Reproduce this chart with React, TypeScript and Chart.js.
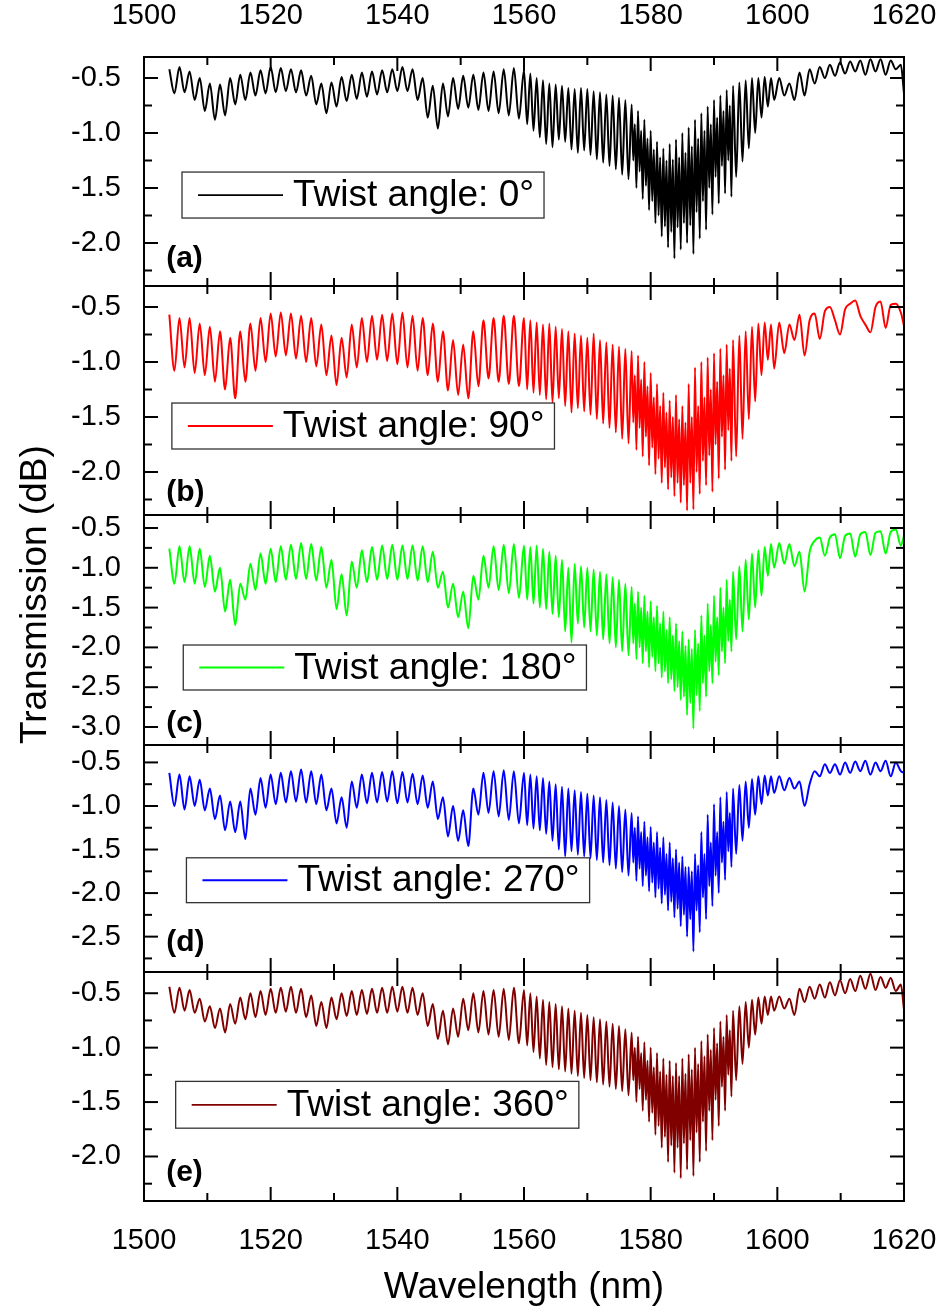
import React, { useEffect, useRef } from "react";
import { Chart, registerables } from "chart.js";

Chart.register(...registerables);

// Shared wavelength sampling (nm): fringe peaks/troughs
const WAVELENGTH_NM = [
  1504.0, 1504.8, 1505.6, 1506.4, 1507.2, 1508.0, 1508.8, 1509.6, 1510.4, 1511.2,
  1512.0, 1512.8, 1513.6, 1514.4, 1515.2, 1516.0, 1516.8, 1517.6, 1518.4, 1519.2,
  1520.0, 1520.8, 1521.6, 1522.4, 1523.2, 1524.0, 1524.8, 1525.6, 1526.4, 1527.2,
  1528.0, 1528.8, 1529.6, 1530.4, 1531.2, 1532.0, 1532.8, 1533.6, 1534.4, 1535.2,
  1536.0, 1536.8, 1537.6, 1538.4, 1539.2, 1540.0, 1540.8, 1541.6, 1542.4, 1543.2,
  1544.0, 1544.8, 1545.6, 1546.4, 1547.2, 1548.0, 1548.8, 1549.6, 1550.4, 1551.2,
  1552.0, 1552.8, 1553.6, 1554.4, 1555.2, 1556.0, 1556.8, 1557.6, 1558.4, 1559.2,
  1560.0, 1560.5, 1561.0, 1561.5, 1562.0, 1562.5, 1563.0, 1563.5, 1564.0, 1564.5,
  1565.0, 1565.5, 1566.0, 1566.5, 1567.0, 1567.5, 1568.0, 1568.5, 1569.0, 1569.5,
  1570.0, 1570.5, 1571.0, 1571.5, 1572.0, 1572.5, 1573.0, 1573.5, 1574.0, 1574.5,
  1575.0, 1575.5, 1576.0, 1576.5,
  1577.0, 1577.25, 1577.5, 1577.75, 1578.0, 1578.25, 1578.5, 1578.75,
  1579.0, 1579.25, 1579.5, 1579.75, 1580.0, 1580.25, 1580.5, 1580.75,
  1581.0, 1581.25, 1581.5, 1581.75, 1582.0, 1582.25, 1582.5, 1582.75,
  1583.0, 1583.25, 1583.5, 1583.75, 1584.0, 1584.25, 1584.5, 1584.75,
  1585.0, 1585.25, 1585.5, 1585.75, 1586.0, 1586.25, 1586.5, 1586.75,
  1587.0, 1587.25, 1587.5, 1587.75, 1588.0, 1588.25, 1588.5, 1588.75,
  1589.0, 1589.25, 1589.5, 1589.75, 1590.0, 1590.25, 1590.5, 1590.75,
  1591.0, 1591.25, 1591.5, 1591.75, 1592.0, 1592.25, 1592.5, 1592.75,
  1593.0, 1593.5, 1594.0, 1594.5,
  1595.0, 1595.5, 1596.0, 1596.5, 1597.0, 1597.5, 1598.0, 1598.5, 1599.0, 1599.5,
  1600.3, 1601.1, 1601.9, 1602.7, 1603.5, 1604.3, 1605.1, 1605.9, 1606.7, 1607.5,
  1608.3, 1609.1, 1609.9, 1610.7, 1611.5, 1612.3, 1613.1, 1613.9, 1614.7, 1615.5,
  1616.3, 1617.1, 1617.9, 1618.7, 1619.5, 1620.0,
];

const TRANSMISSION_0 = [
  -0.42, -0.64, -0.40, -0.63, -0.44, -0.70, -0.50, -0.80, -0.55, -0.88,
  -0.56, -0.84, -0.50, -0.74, -0.47, -0.70, -0.45, -0.66, -0.43, -0.64,
  -0.40, -0.63, -0.41, -0.62, -0.42, -0.63, -0.43, -0.66, -0.48, -0.74,
  -0.55, -0.82, -0.54, -0.76, -0.49, -0.71, -0.47, -0.69, -0.45, -0.67,
  -0.44, -0.65, -0.43, -0.63, -0.42, -0.62, -0.40, -0.62, -0.42, -0.70,
  -0.50, -0.86, -0.57, -0.96, -0.55, -0.85, -0.50, -0.78, -0.48, -0.77,
  -0.47, -0.79, -0.45, -0.80, -0.44, -0.82, -0.42, -0.84, -0.41, -0.87,
  -0.43, -0.92, -0.46, -0.98, -0.50, -1.04, -0.52, -1.10, -0.55, -1.13,
  -0.56, -1.06, -0.57, -1.08, -0.59, -1.15, -0.60, -1.18, -0.59, -1.16,
  -0.60, -1.20, -0.62, -1.24, -0.63, -1.27, -0.65, -1.30, -0.66, -1.33,
  -0.68, -1.38, -0.70, -1.42,
  -0.74, -1.25, -0.92, -1.50, -0.80, -1.35, -0.98, -1.60,
  -0.88, -1.48, -1.05, -1.70, -0.98, -1.62, -1.15, -1.82,
  -1.08, -1.75, -1.22, -1.94, -1.14, -1.85, -1.25, -2.04,
  -1.10, -1.90, -1.24, -2.14, -1.06, -1.86, -1.22, -2.06,
  -1.00, -1.82, -1.18, -2.00, -0.95, -1.84, -1.12, -2.10,
  -0.88, -1.72, -1.05, -1.96, -0.82, -1.62, -0.98, -1.88,
  -0.76, -1.50, -0.92, -1.74, -0.70, -1.40, -0.86, -1.64,
  -0.66, -1.30, -0.80, -1.55, -0.61, -1.25, -0.75, -1.58,
  -0.57, -1.40, -0.54, -1.26,
  -0.52, -1.14, -0.50, -1.00, -0.50, -0.86, -0.49, -0.76, -0.50, -0.70,
  -0.50, -0.66, -0.55, -0.70, -0.45, -0.66, -0.42, -0.55, -0.40, -0.50,
  -0.38, -0.48, -0.36, -0.46, -0.35, -0.44, -0.34, -0.47, -0.33, -0.44,
  -0.33, -0.47, -0.34, -0.42, -0.38, -0.64,
];

const TRANSMISSION_90 = [
  -0.57, -1.08, -0.60, -1.05, -0.60, -1.10, -0.65, -1.12, -0.68, -1.18,
  -0.72, -1.25, -0.78, -1.33, -0.72, -1.18, -0.65, -1.08, -0.60, -1.00,
  -0.56, -0.95, -0.55, -0.94, -0.56, -0.97, -0.58, -1.00, -0.60, -1.04,
  -0.66, -1.12, -0.76, -1.21, -0.78, -1.14, -0.66, -1.05, -0.60, -1.00,
  -0.58, -0.98, -0.57, -0.99, -0.56, -1.02, -0.55, -1.05, -0.58, -1.08,
  -0.60, -1.12, -0.65, -1.18, -0.72, -1.26, -0.80, -1.30, -0.84, -1.33,
  -0.72, -1.22, -0.62, -1.15, -0.60, -1.18, -0.58, -1.20, -0.58, -1.22,
  -0.60, -1.25, -0.62, -1.28, -0.64, -1.30, -0.66, -1.34, -0.65, -1.37,
  -0.68, -1.33, -0.70, -1.40, -0.72, -1.46, -0.74, -1.42, -0.76, -1.45,
  -0.78, -1.48, -0.74, -1.52, -0.80, -1.56, -0.82, -1.60, -0.84, -1.64,
  -0.86, -1.70, -0.88, -1.74,
  -0.90, -1.55, -1.12, -1.80, -0.94, -1.60, -1.16, -1.86,
  -1.00, -1.68, -1.22, -1.94, -1.10, -1.78, -1.32, -2.02,
  -1.20, -1.88, -1.40, -2.10, -1.28, -1.96, -1.46, -2.16,
  -1.35, -2.05, -1.50, -2.22, -1.30, -2.10, -1.52, -2.28,
  -1.40, -2.12, -1.55, -2.35, -1.20, -2.10, -1.50, -2.34,
  -1.05, -2.00, -1.40, -2.20, -1.00, -1.90, -1.32, -2.12,
  -0.96, -1.85, -1.25, -2.18, -0.92, -1.75, -1.18, -2.06,
  -0.88, -1.68, -1.12, -1.98, -0.84, -1.62, -1.06, -1.90,
  -0.80, -1.86, -0.76, -1.70,
  -0.72, -1.52, -0.68, -1.36, -0.65, -1.12, -0.64, -0.98, -0.66, -1.06,
  -0.64, -0.92, -0.66, -0.80, -0.57, -0.94, -0.62, -0.56, -0.79, -0.54,
  -0.50, -0.62, -0.75, -0.52, -0.47, -0.44, -0.58, -0.66, -0.73, -0.50,
  -0.45, -0.69, -0.48, -0.47, -0.55, -0.67,
];

const TRANSMISSION_180 = [
  -0.76, -1.20, -0.73, -1.18, -0.73, -1.20, -0.76, -1.24, -0.85, -1.30,
  -1.00, -1.55, -1.15, -1.72, -1.20, -1.40, -0.95, -1.28, -0.82, -1.20,
  -0.76, -1.18, -0.73, -1.15, -0.71, -1.14, -0.69, -1.14, -0.70, -1.16,
  -0.74, -1.25, -0.90, -1.52, -1.08, -1.60, -0.92, -1.25, -0.78, -1.18,
  -0.74, -1.15, -0.72, -1.14, -0.71, -1.15, -0.72, -1.14, -0.72, -1.16,
  -0.73, -1.18, -0.80, -1.25, -1.05, -1.50, -1.20, -1.62, -1.30, -1.76,
  -1.10, -1.40, -0.85, -1.25, -0.73, -1.28, -0.71, -1.32, -0.70, -1.38,
  -0.72, -1.40, -0.74, -1.45, -0.72, -1.50, -0.76, -1.52, -0.80, -1.58,
  -0.85, -1.62, -0.90, -1.80, -1.00, -1.94, -0.95, -1.70, -0.98, -1.75,
  -1.00, -1.80, -1.02, -1.85, -1.05, -1.90, -1.08, -1.95, -1.12, -2.00,
  -1.15, -2.05, -1.20, -2.10,
  -1.24, -1.95, -1.45, -2.15, -1.30, -2.00, -1.50, -2.20,
  -1.35, -2.05, -1.55, -2.25, -1.42, -2.12, -1.62, -2.30,
  -1.48, -2.20, -1.70, -2.38, -1.55, -2.30, -1.78, -2.45,
  -1.62, -2.40, -1.85, -2.55, -1.70, -2.50, -1.92, -2.66,
  -1.80, -2.62, -1.98, -2.85, -1.90, -2.70, -2.02, -3.02,
  -1.78, -2.60, -1.95, -2.80, -1.60, -2.45, -1.85, -2.62,
  -1.45, -2.30, -1.72, -2.45, -1.35, -2.18, -1.62, -2.35,
  -1.25, -2.05, -1.50, -2.20, -1.15, -1.92, -1.40, -2.05,
  -1.05, -1.90, -0.98, -1.80,
  -0.90, -1.65, -0.82, -1.50, -0.78, -1.35, -0.74, -1.10, -0.70, -1.00,
  -0.69, -0.95, -0.70, -0.98, -0.80, -1.30, -0.80, -0.66, -0.62, -0.85,
  -0.62, -0.58, -0.88, -0.60, -0.57, -0.86, -0.58, -0.55, -0.84, -0.56,
  -0.54, -0.82, -0.55, -0.52, -0.72, -0.60,
];

const TRANSMISSION_270 = [
  -0.62, -1.00, -0.64, -1.04, -0.66, -1.00, -0.70, -1.05, -0.80, -1.15,
  -0.88, -1.28, -0.95, -1.30, -0.95, -1.38, -0.80, -1.10, -0.68, -1.02,
  -0.64, -0.98, -0.62, -0.96, -0.60, -0.95, -0.58, -0.96, -0.60, -0.98,
  -0.64, -1.05, -0.80, -1.20, -0.90, -1.25, -0.72, -1.02, -0.64, -0.97,
  -0.62, -0.96, -0.61, -0.95, -0.60, -0.97, -0.61, -0.96, -0.63, -0.98,
  -0.65, -1.02, -0.72, -1.15, -0.90, -1.35, -1.00, -1.40, -1.05, -1.46,
  -0.80, -1.10, -0.62, -1.08, -0.60, -1.12, -0.59, -1.16, -0.60, -1.20,
  -0.62, -1.22, -0.64, -1.26, -0.66, -1.28, -0.68, -1.32, -0.72, -1.40,
  -0.75, -1.50, -0.78, -1.58, -0.80, -1.52, -0.82, -1.56, -0.84, -1.58,
  -0.86, -1.60, -0.88, -1.62, -0.90, -1.65, -0.93, -1.68, -0.96, -1.72,
  -1.00, -1.76, -1.04, -1.80,
  -1.08, -1.65, -1.25, -1.86, -1.12, -1.72, -1.30, -1.92,
  -1.18, -1.80, -1.36, -1.98, -1.24, -1.88, -1.42, -2.05,
  -1.30, -1.95, -1.48, -2.12, -1.36, -2.02, -1.55, -2.20,
  -1.42, -2.10, -1.60, -2.28, -1.50, -2.18, -1.65, -2.38,
  -1.58, -2.25, -1.70, -2.50, -1.70, -2.30, -1.75, -2.67,
  -1.55, -2.20, -1.68, -2.45, -1.30, -2.05, -1.55, -2.30,
  -1.10, -1.92, -1.42, -2.15, -0.98, -1.80, -1.30, -2.00,
  -0.90, -1.65, -1.18, -1.85, -0.84, -1.52, -1.08, -1.70,
  -0.80, -1.55, -0.76, -1.40,
  -0.72, -1.25, -0.69, -1.10, -0.66, -0.98, -0.65, -0.88, -0.66, -0.85,
  -0.66, -0.82, -0.68, -0.80, -0.72, -1.00, -0.75, -0.60, -0.66, -0.52,
  -0.62, -0.52, -0.64, -0.50, -0.62, -0.49, -0.60, -0.48, -0.64, -0.50,
  -0.60, -0.48, -0.66, -0.50, -0.60, -0.62,
];

const TRANSMISSION_360 = [
  -0.44, -0.68, -0.45, -0.66, -0.47, -0.68, -0.55, -0.76, -0.62, -0.82,
  -0.64, -0.86, -0.60, -0.78, -0.54, -0.74, -0.50, -0.72, -0.48, -0.70,
  -0.46, -0.68, -0.45, -0.67, -0.44, -0.68, -0.46, -0.72, -0.52, -0.80,
  -0.58, -0.82, -0.54, -0.74, -0.50, -0.71, -0.48, -0.70, -0.47, -0.69,
  -0.46, -0.68, -0.45, -0.68, -0.44, -0.67, -0.44, -0.68, -0.45, -0.70,
  -0.50, -0.80, -0.60, -0.92, -0.66, -0.97, -0.64, -0.90, -0.55, -0.84,
  -0.50, -0.86, -0.48, -0.88, -0.47, -0.90, -0.46, -0.93, -0.45, -0.96,
  -0.47, -0.98, -0.50, -1.04, -0.53, -1.10, -0.56, -1.16, -0.58, -1.18,
  -0.60, -1.20, -0.62, -1.22, -0.64, -1.24, -0.66, -1.26, -0.68, -1.28,
  -0.70, -1.30, -0.72, -1.32, -0.74, -1.34, -0.76, -1.36, -0.78, -1.38,
  -0.80, -1.40, -0.83, -1.44,
  -0.86, -1.30, -1.00, -1.50, -0.90, -1.38, -1.05, -1.58,
  -0.95, -1.48, -1.12, -1.68, -1.00, -1.60, -1.18, -1.80,
  -1.05, -1.72, -1.22, -1.92, -1.10, -1.82, -1.25, -2.05,
  -1.12, -1.90, -1.26, -2.15, -1.14, -1.92, -1.26, -2.20,
  -1.10, -1.88, -1.24, -2.12, -1.06, -1.85, -1.20, -2.18,
  -1.00, -1.78, -1.15, -2.05, -0.94, -1.68, -1.08, -1.95,
  -0.88, -1.58, -1.02, -1.85, -0.82, -1.48, -0.96, -1.72,
  -0.76, -1.36, -0.90, -1.58, -0.70, -1.25, -0.84, -1.45,
  -0.66, -1.30, -0.62, -1.15,
  -0.58, -1.00, -0.56, -0.88, -0.54, -0.78, -0.53, -0.70, -0.53, -0.66,
  -0.53, -0.64, -0.55, -0.70, -0.46, -0.58, -0.44, -0.55, -0.42, -0.54,
  -0.40, -0.52, -0.38, -0.50, -0.37, -0.48, -0.34, -0.46, -0.32, -0.47,
  -0.35, -0.45, -0.36, -0.48, -0.42, -0.65,
];

// Axis ticks
const X_MAJOR_TICKS = [1500, 1520, 1540, 1560, 1580, 1600, 1620];
const X_MINOR_TICKS = [1510, 1530, 1550, 1570, 1590, 1610];
const Y_MAJOR_AB = [-0.5, -1.0, -1.5, -2.0];
const Y_MINOR_AB = [-0.75, -1.25, -1.75, -2.25];
const Y_MAJOR_C = [-0.5, -1.0, -1.5, -2.0, -2.5, -3.0];
const Y_MINOR_C = [-0.75, -1.25, -1.75, -2.25, -2.75];
const Y_MAJOR_D = [-0.5, -1.0, -1.5, -2.0, -2.5];
const Y_MINOR_D = [-0.75, -1.25, -1.75, -2.25, -2.75];
const Y_MAJOR_E = [-0.5, -1.0, -1.5, -2.0];
const Y_MINOR_E = [-0.75, -1.25, -1.75, -2.25];

const LEGEND_LABELS = [
  "Twist angle: 0°",
  "Twist angle: 90°",
  "Twist angle: 180°",
  "Twist angle: 270°",
  "Twist angle: 360°",
];
const PANEL_TAGS = ["(a)", "(b)", "(c)", "(d)", "(e)"];

const FONT = "'Liberation Sans', Arial, sans-serif";

type Panel = {
  id: string;
  values: number[];
  color: string;
  label: string;
  tag: string;
  min: number;
  max: number;
  major: number[];
  minor: number[];
  stackWeight: number;
  order: number;
  legendLeft: number;
  legendTop: number;
  legendBottom: number;
  tagY: number;
};

const PANELS: Panel[] = [
  { id: "yA", values: TRANSMISSION_0, color: "#000000", label: LEGEND_LABELS[0], tag: PANEL_TAGS[0],
    min: -2.391, max: -0.309, major: Y_MAJOR_AB, minor: Y_MINOR_AB, stackWeight: 229, order: 5,
    legendLeft: 1506.0, legendTop: -1.355, legendBottom: -1.773, tagY: -2.145 },
  { id: "yB", values: TRANSMISSION_90, color: "#ff0000", label: LEGEND_LABELS[1], tag: PANEL_TAGS[1],
    min: -2.391, max: -0.309, major: Y_MAJOR_AB, minor: Y_MINOR_AB, stackWeight: 229, order: 4,
    legendLeft: 1504.4, legendTop: -1.373, legendBottom: -1.791, tagY: -2.19 },
  { id: "yC", values: TRANSMISSION_180, color: "#00ff00", label: LEGEND_LABELS[2], tag: PANEL_TAGS[2],
    min: -3.226, max: -0.337, major: Y_MAJOR_C, minor: Y_MINOR_C, stackWeight: 230, order: 3,
    legendLeft: 1506.2, legendTop: -1.97, legendBottom: -2.535, tagY: -2.96 },
  { id: "yD", values: TRANSMISSION_270, color: "#0000ff", label: LEGEND_LABELS[3], tag: PANEL_TAGS[3],
    min: -2.906, max: -0.30, major: Y_MAJOR_D, minor: Y_MINOR_D, stackWeight: 227, order: 2,
    legendLeft: 1506.7, legendTop: -1.595, legendBottom: -2.11, tagY: -2.567 },
  { id: "yE", values: TRANSMISSION_360, color: "#800000", label: LEGEND_LABELS[4], tag: PANEL_TAGS[4],
    min: -2.409, max: -0.305, major: Y_MAJOR_E, minor: Y_MINOR_E, stackWeight: 229, order: 1,
    legendLeft: 1505.0, legendTop: -1.31, legendBottom: -1.74, tagY: -2.152 },
];

const framePlugin = {
  id: "panelFrames",
  afterDraw(chart: any) {
    const ctx = chart.ctx as CanvasRenderingContext2D;
    const area = chart.chartArea;
    const xs = chart.scales.x;
    const line = (x1: number, y1: number, x2: number, y2: number) => {
      ctx.beginPath();
      ctx.moveTo(x1, y1);
      ctx.lineTo(x2, y2);
      ctx.stroke();
    };
    ctx.save();
    PANELS.forEach((p) => {
      const ys = chart.scales[p.id];
      const top = ys.top;
      const bottom = ys.bottom;
      // legend box
      const lx = xs.getPixelForValue(p.legendLeft);
      const lt = ys.getPixelForValue(p.legendTop);
      const lb = ys.getPixelForValue(p.legendBottom);
      ctx.font = `37px ${FONT}`;
      const tw = ctx.measureText(p.label).width;
      const boxW = 111 + tw + 10;
      ctx.fillStyle = "#ffffff";
      ctx.fillRect(lx, lt, boxW, lb - lt);
      ctx.strokeStyle = "#333333";
      ctx.lineWidth = 1.3;
      ctx.strokeRect(lx, lt, boxW, lb - lt);
      const cy = (lt + lb) / 2;
      ctx.strokeStyle = p.color;
      ctx.lineWidth = 1.8;
      line(lx + 16, cy, lx + 101, cy);
      ctx.fillStyle = "#000000";
      ctx.textAlign = "left";
      ctx.textBaseline = "middle";
      ctx.fillText(p.label, lx + 111, cy + 1);
      // panel tag
      ctx.font = `bold 30px ${FONT}`;
      ctx.fillText(p.tag, xs.getPixelForValue(1503.5), ys.getPixelForValue(p.tagY));
      // frame
      ctx.strokeStyle = "#000000";
      ctx.lineWidth = 2;
      ctx.strokeRect(area.left, top, area.right - area.left, bottom - top);
      X_MAJOR_TICKS.forEach((v) => {
        const px = xs.getPixelForValue(v);
        line(px, top, px, top + 14);
        line(px, bottom, px, bottom - 14);
      });
      X_MINOR_TICKS.forEach((v) => {
        const px = xs.getPixelForValue(v);
        line(px, top, px, top + 8);
        line(px, bottom, px, bottom - 8);
      });
      p.major.forEach((v) => {
        const py = ys.getPixelForValue(v);
        line(area.left, py, area.left + 14, py);
        line(area.right, py, area.right - 14, py);
      });
      p.minor.forEach((v) => {
        if (v < p.min || v > p.max) return;
        const py = ys.getPixelForValue(v);
        line(area.left, py, area.left + 8, py);
        line(area.right, py, area.right - 8, py);
      });
    });
    ctx.fillStyle = "#000000";
    ctx.font = `37px ${FONT}`;
    ctx.textAlign = "center";
    ctx.textBaseline = "middle";
    ctx.fillText("Wavelength (nm)", (area.left + area.right) / 2, area.bottom + 87);
    ctx.save();
    ctx.translate(36, area.top + (area.bottom - area.top) * 0.47);
    ctx.rotate(-Math.PI / 2);
    ctx.fillText("Transmission (dB)", 0, 0);
    ctx.restore();
    ctx.restore();
  },
};

export default function App() {
  const canvasRef = useRef<HTMLCanvasElement | null>(null);

  useEffect(() => {
    const canvas = canvasRef.current;
    if (!canvas) return;
    Chart.defaults.font.family = FONT;
    Chart.defaults.color = "#000000";

    const datasets = PANELS.map((p) => {
      const n = Math.min(WAVELENGTH_NM.length, p.values.length);
      const data = [] as { x: number; y: number }[];
      for (let i = 0; i < n; i++) data.push({ x: WAVELENGTH_NM[i], y: p.values[i] });
      return {
        label: p.label,
        data,
        borderColor: p.color,
        backgroundColor: p.color,
        borderWidth: 2,
        pointRadius: 0,
        cubicInterpolationMode: "monotone",
        fill: false,
        xAxisID: "x",
        yAxisID: p.id,
      };
    });

    const xFit = (h: number) => (s: any) => {
      s.height = h;
      s.paddingLeft = 0;
      s.paddingRight = 0;
    };

    const scales: any = {
      x: {
        type: "linear",
        position: "bottom",
        min: 1500,
        max: 1620,
        grid: { display: false },
        border: { display: false },
        ticks: { font: { size: 29 }, padding: 15, maxRotation: 0, autoSkip: false, color: "#000",
          callback: (v: any) => String(v) },
        afterBuildTicks: (s: any) => { s.ticks = X_MAJOR_TICKS.map((v) => ({ value: v })); },
        afterFit: xFit(109),
      },
      xTop: {
        type: "linear",
        position: "top",
        min: 1500,
        max: 1620,
        grid: { display: false },
        border: { display: false },
        ticks: { font: { size: 29 }, padding: 16, maxRotation: 0, autoSkip: false, color: "#000",
          callback: (v: any) => String(v) },
        afterBuildTicks: (s: any) => { s.ticks = X_MAJOR_TICKS.map((v) => ({ value: v })); },
        afterFit: xFit(57),
      },
    };
    PANELS.forEach((p) => {
      scales[p.id] = {
        type: "linear",
        position: "left",
        stack: "panels",
        stackWeight: p.stackWeight,
        weight: p.order,
        min: p.min,
        max: p.max,
        grid: { display: false },
        border: { display: false },
        ticks: { font: { size: 29 }, padding: 15, autoSkip: false, color: "#000",
          callback: (v: any) => Number(v).toFixed(1) },
        afterBuildTicks: (s: any) => { s.ticks = p.major.map((v) => ({ value: v })); },
        afterFit: (s: any) => {
          s.width = 144;
          s.paddingTop = 0;
          s.paddingBottom = 0;
        },
      };
    });

    const chart = new Chart(canvas, {
      type: "line",
      data: { datasets } as any,
      options: {
        animation: false,
        responsive: false,
        devicePixelRatio: 1,
        parsing: false,
        layout: { padding: { left: 0, right: 42, top: 0, bottom: 0 } },
        plugins: { legend: { display: false }, tooltip: { enabled: false } },
        scales,
      } as any,
      plugins: [framePlugin],
    });
    return () => chart.destroy();
  }, []);

  return (
    <div style={{ position: "absolute", left: 0, top: 0, width: 946, height: 1310, background: "#fff" }}>
      <canvas ref={canvasRef} width={946} height={1310} style={{ display: "block" }} />
    </div>
  );
}
